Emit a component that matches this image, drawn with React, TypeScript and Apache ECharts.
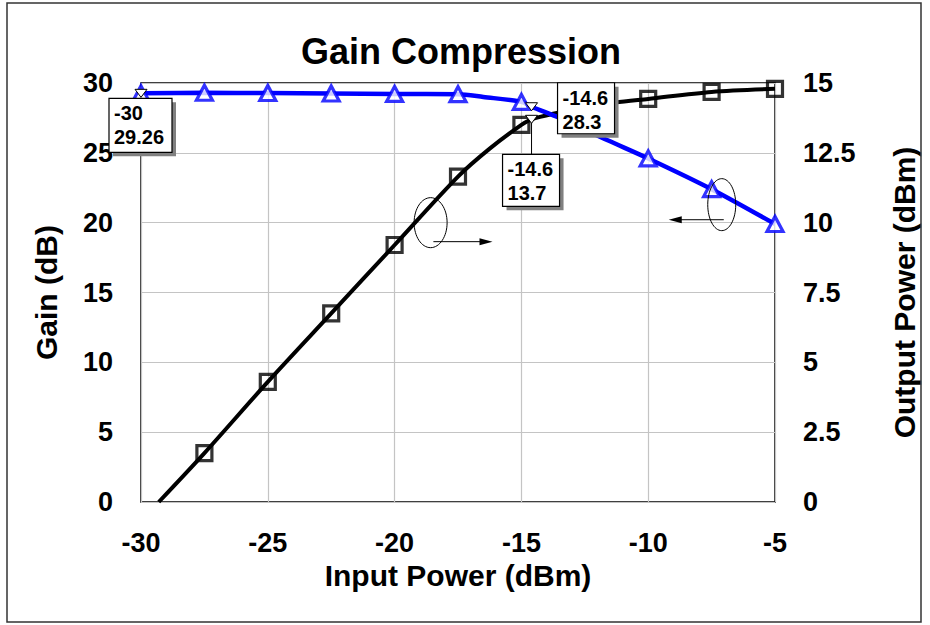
import React, { useEffect, useRef } from "react";
import * as echarts from "echarts";

const FONT = "'Liberation Sans', Arial, Helvetica, sans-serif";

// Input power (dBm) ticks
const xTicks = [-30, -25, -20, -15, -10, -5];

// Gain curve (dB), left axis
const gainX = [-30, -27.5, -25, -22.5, -20, -17.5, -16.5, -15, -14.6, -13.5, -11.6, -10, -7.5, -5];
const gainY = [29.26, 29.3, 29.28, 29.25, 29.22, 29.2, 29.0, 28.65, 28.3, 27.5, 25.9, 24.6, 22.4, 19.9];
const gainMarkX = [-30, -27.5, -25, -22.5, -20, -17.5, -15, -10, -7.5, -5];
const gainMarkY = [29.26, 29.3, 29.28, 29.25, 29.22, 29.2, 28.65, 24.6, 22.4, 19.9];

// Output power curve (dBm), right axis
const outX = [-29.3, -27.5, -25, -22.5, -20, -17.5, -16.25, -15, -14.6, -13.5, -12.5, -11.3, -10, -7.5, -5];
const outY = [0, 1.75, 4.3, 6.75, 9.2, 11.65, 12.65, 13.5, 13.7, 13.95, 14.15, 14.3, 14.43, 14.68, 14.79];
const outMarkX = [-27.5, -25, -22.5, -20, -17.5, -15, -10, -7.5, -5];
const outMarkY = [1.75, 4.3, 6.75, 9.2, 11.65, 13.5, 14.43, 14.68, 14.79];

// Marker readouts
const markA = { x: -30, y: 29.26 }; // on gain
const markB = { x: -14.6, y: 28.3 }; // on gain
const markC = { x: -14.6, y: 13.7 }; // on output power

const zip = (a: number[], b: number[]) => a.map((v, i) => [v, b[i]]);

export default function App() {
  const ref = useRef<HTMLDivElement>(null);

  useEffect(() => {
    if (!ref.current) return;
    const chart = echarts.init(ref.current, null, { renderer: "svg" });
    const tickFont = { fontFamily: FONT, fontWeight: "bold" as const, fontSize: 27, color: "#000" };
    const nameFont = { fontFamily: FONT, fontWeight: "bold" as const, fontSize: 30, color: "#000" };
    chart.setOption({
      animation: false,
      backgroundColor: "#fff",
      title: {
        text: "Gain Compression",
        left: 456,
        top: 28,
        textAlign: "center",
        textStyle: { fontFamily: FONT, fontWeight: "bold", fontSize: 36, color: "#000" },
      },
      grid: {
        left: 141,
        right: 155,
        top: 83,
        bottom: 123,
        show: true,
        borderColor: "#000",
        borderWidth: 1.5,
        backgroundColor: "#fff",
      },
      xAxis: {
        type: "value",
        min: -30,
        max: -5,
        interval: 5,
        name: "Input Power (dBm)",
        nameLocation: "middle",
        nameGap: 55,
        nameTextStyle: nameFont,
        axisLine: { show: false },
        axisTick: { show: false },
        axisLabel: { ...tickFont, margin: 27, customValues: xTicks },
        splitLine: { show: true, lineStyle: { color: "#c4c4c4", width: 1.2 } },
      },
      yAxis: [
        {
          type: "value",
          min: 0,
          max: 30,
          interval: 5,
          position: "left",
          name: "Gain (dB)",
          nameLocation: "middle",
          nameGap: 80,
          nameRotate: 90,
          nameTextStyle: nameFont,
          axisLine: { show: false },
          axisTick: { show: false },
          axisLabel: { ...tickFont, margin: 28 },
          splitLine: { show: true, lineStyle: { color: "#c4c4c4", width: 1.2 } },
        },
        {
          type: "value",
          min: 0,
          max: 15,
          interval: 2.5,
          position: "right",
          name: "Output Power (dBm)",
          nameLocation: "middle",
          nameGap: 114,
          nameRotate: 90,
          nameTextStyle: nameFont,
          axisLine: { show: false },
          axisTick: { show: false },
          axisLabel: { ...tickFont, margin: 28 },
          splitLine: { show: false },
        },
      ],
      series: [
        {
          type: "line",
          yAxisIndex: 1,
          data: zip(outX, outY),
          smooth: 0.3,
          showSymbol: false,
          clip: true,
          lineStyle: { color: "#000", width: 4 },
          z: 2,
        },
        {
          type: "scatter",
          yAxisIndex: 1,
          data: zip(outMarkX, outMarkY),
          symbol: "rect",
          symbolSize: 15,
          itemStyle: { color: "rgba(0,0,0,0)", borderColor: "#000", borderWidth: 3.2 },
          z: 3,
        },
        {
          type: "line",
          yAxisIndex: 0,
          data: zip(gainX, gainY),
          smooth: 0.3,
          showSymbol: false,
          clip: true,
          lineStyle: { color: "#0000ff", width: 4.5 },
          z: 4,
        },
        {
          type: "scatter",
          yAxisIndex: 0,
          data: zip(gainMarkX, gainMarkY),
          symbol: "triangle",
          symbolSize: [16, 15],
          itemStyle: { color: "#fff", borderColor: "#0000ff", borderWidth: 3.2 },
          z: 5,
        },
      ],
    });

    const px = (x: number, y: number, yi: number) =>
      chart.convertToPixel({ xAxisIndex: 0, yAxisIndex: yi }, [x, y]) as number[];

    const els: any[] = [];
    els.push({
      type: "rect",
      z: 200,
      silent: true,
      shape: { x: 7, y: 3, width: 914, height: 619 },
      style: { fill: "none", stroke: "#333", lineWidth: 1.5 },
    });

    const marker = (p: number[]) => ({
      type: "polygon",
      z: 110,
      shape: { points: [[p[0] - 6, p[1] - 4], [p[0] + 6, p[1] - 4], [p[0], p[1] + 4]] },
      style: { fill: "#fff", stroke: "#000", lineWidth: 1 },
    });
    const box = (p: number[], dx: number, dy: number, w: number, h: number, lines: string[]) => {
      const x = p[0] + dx;
      const y = p[1] + dy;
      return [
        { type: "rect", z: 111, shape: { x: x + 4, y: y + 4, width: w, height: h }, style: { fill: "#808080" } },
        { type: "rect", z: 112, shape: { x, y, width: w, height: h }, style: { fill: "#fff", stroke: "#000", lineWidth: 1.2 } },
        {
          type: "text",
          z: 113,
          x: x + 5,
          y: y + 3,
          style: {
            text: lines.join("\n"),
            fontFamily: FONT,
            fontWeight: "bold",
            fontSize: 20,
            fill: "#000",
            lineHeight: 24,
            verticalAlign: "top",
            align: "left",
          },
        },
      ];
    };

    const pA = px(markA.x, markA.y, 0);
    const pB = px(markB.x, markB.y, 0);
    const pC = px(markC.x, markC.y, 1);

    // leader line for C
    els.push({
      type: "line",
      z: 109,
      shape: { x1: pC[0], y1: pC[1], x2: pC[0], y2: pC[1] + 35 },
      style: { stroke: "#000", lineWidth: 1 },
    });
    els.push(marker(pA), marker(pB), marker(pC));
    els.push(...box(pA, -32, 5, 63, 54, [String(markA.x), String(markA.y)]));
    els.push(...box(pB, 26, -24, 57, 51, [String(markB.x), String(markB.y)]));
    els.push(...box(pC, -29, 35, 57, 52, [String(markC.x), String(markC.y)]));

    // curve-to-axis annotations
    const e1 = px(-18.58, 10.0, 1);
    els.push({ type: "ellipse", z: 105, shape: { cx: e1[0], cy: e1[1], rx: 16.5, ry: 25 }, style: { fill: "none", stroke: "#000", lineWidth: 1 } });
    const a1s = px(-18.47, 9.32, 1);
    const a1e = px(-16.14, 9.32, 1);
    els.push({ type: "line", z: 105, shape: { x1: a1s[0], y1: a1s[1], x2: a1e[0] - 12, y2: a1e[1] }, style: { stroke: "#000", lineWidth: 1 } });
    els.push({ type: "polygon", z: 105, shape: { points: [[a1e[0], a1e[1]], [a1e[0] - 13, a1e[1] - 3.5], [a1e[0] - 13, a1e[1] + 3.5]] }, style: { fill: "#000" } });

    const e2 = px(-7.1, 21.29, 0);
    els.push({ type: "ellipse", z: 105, shape: { cx: e2[0], cy: e2[1], rx: 14, ry: 26 }, style: { fill: "none", stroke: "#000", lineWidth: 1 } });
    const a2s = px(-7.02, 20.21, 0);
    const a2e = px(-9.19, 20.21, 0);
    els.push({ type: "line", z: 105, shape: { x1: a2s[0], y1: a2s[1], x2: a2e[0] + 12, y2: a2e[1] }, style: { stroke: "#000", lineWidth: 1 } });
    els.push({ type: "polygon", z: 105, shape: { points: [[a2e[0], a2e[1]], [a2e[0] + 13, a2e[1] - 3.5], [a2e[0] + 13, a2e[1] + 3.5]] }, style: { fill: "#000" } });

    chart.setOption({ graphic: { elements: els } });

    return () => chart.dispose();
  }, []);

  return (
    <div
      ref={ref}
      style={{ position: "absolute", left: 0, top: 0, width: 930, height: 625 }}
    />
  );
}
